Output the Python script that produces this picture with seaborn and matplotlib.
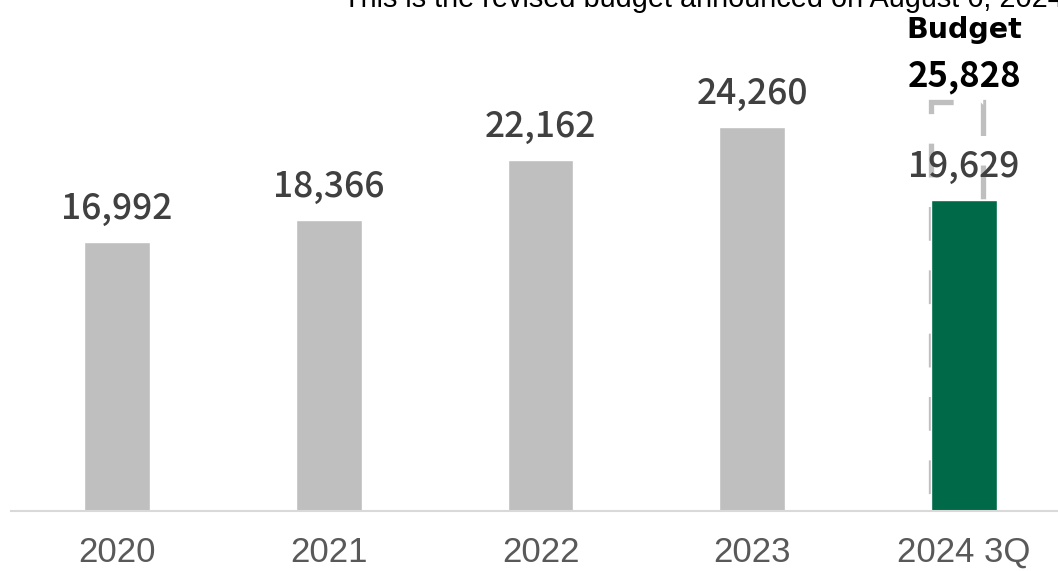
import matplotlib
matplotlib.use("Agg")
import matplotlib.pyplot as plt
import seaborn as sns
import pandas as pd
from matplotlib.patches import Rectangle

categories = ["2020", "2021", "2022", "2023", "2024 3Q"]
values = [16992, 18366, 22162, 24260, 19629]
budget_value = 25828
budget_label = "Budget"
note_text = "This is the revised budget announced on August 6, 2024."
bar_colors = ["#BFBFBF", "#BFBFBF", "#BFBFBF", "#BFBFBF", "#006A48"]

sns.set_theme(style="white")
plt.rcParams['font.family'] = ['Liberation Sans', 'DejaVu Sans']

df = pd.DataFrame({"cat": categories, "val": values})

fig = plt.figure(figsize=(10.58, 5.71), dpi=100)
ax = fig.add_axes([11/1058, 1 - 511/571, 1 - 11/1058, 511/571])

sns.barplot(data=df, x="cat", y="val", hue="cat", palette=bar_colors,
            legend=False, width=0.311, ax=ax, saturation=1)

ax.set_xlim(-0.5, 4.443)
ax.set_ylim(0, 32280)

# budget dashed outline
bx = len(categories) - 1
rect = Rectangle((bx - 0.155, 0), 0.245, budget_value, fill=False,
                 edgecolor="#BFBFBF", linewidth=3.8,
                 linestyle=(3, (6.4, 5.6)), zorder=1)
ax.add_patch(rect)
for p in ax.patches[:len(categories)]:
    p.set_zorder(2)

# value labels
for i, v in enumerate(values):
    ax.annotate(f"{v:,}", xy=(i, v), xytext=(0, 16.5), textcoords="offset points",
                ha="center", va="baseline", fontsize=25.5, color="#404040",
                fontweight="medium",
                family=["Noto Sans CJK JP", "DejaVu Sans"], zorder=3)

ax.annotate(f"{budget_value:,}", xy=(bx, budget_value), xytext=(0, 11.5),
            textcoords="offset points", ha="center", va="baseline",
            fontsize=25, color="black", fontweight="bold",
            family=["Noto Sans CJK JP", "DejaVu Sans"])
ax.annotate(budget_label, xy=(bx, budget_value), xytext=(0, 46),
            textcoords="offset points", ha="center", va="baseline",
            fontsize=20.5, color="black", fontweight="bold",
            family=["DejaVu Sans"])

fig.text(343/1058, 1 - 7/571, note_text, ha="left", va="baseline",
         fontsize=20.8, color="black")

ax.set_xlabel("")
ax.set_ylabel("")
ax.set_yticks([])
for s in ["top", "right", "left"]:
    ax.spines[s].set_visible(False)
ax.spines["bottom"].set_color("#D9D9D9")
ax.spines["bottom"].set_linewidth(1.5)
ax.tick_params(axis="x", length=0, pad=18, labelsize=25, labelcolor="#595959")

fig.savefig("out.png", dpi=100)
